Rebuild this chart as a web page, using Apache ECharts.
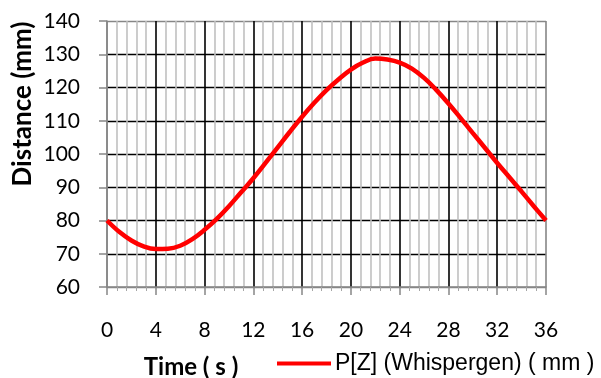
<!DOCTYPE html>
<html>
<head>
<meta charset="utf-8">
<script src="https://cdn.jsdelivr.net/npm/echarts@6/dist/echarts.min.js"></script>
<style>
  html, body { margin: 0; padding: 0; background: #fff; }
</style>
</head>
<body>
<div id="chart" style="width: 601px; height: 378px;"></div>
<script>
// time in seconds, distance in mm
var timeS = [0, 1, 2, 3, 4, 5, 6, 7, 8, 9, 10, 11, 12, 13, 14, 15, 16, 17, 18,
  19, 20, 21, 22, 23, 24, 25, 26, 27, 28, 29, 30, 31, 32, 33, 34, 35, 36]
var distanceMm = [80, 76.6, 74, 72.2, 71.4, 71.5, 72.4, 74.4, 77.2, 80.5, 84.3, 88.5,
  92.7, 97.3, 102, 106.7, 111.2, 115.4, 119.2, 122.5, 125.4, 127.5, 128.7, 128.4,
  127.5, 125.7, 122.9, 119.3, 115.2, 110.8, 106.3, 101.8, 97.3, 93, 88.7, 84.3, 80]
var seriesName = 'P[Z] (Whispergen) ( mm )'

var myChart = echarts.init(document.getElementById('chart'))

var points = timeS.map(function (t, i) { return [t, distanceMm[i]] })

var option = {
  animation: false,
  grid: {
    left: 107,
    right: 55,
    top: 21,
    bottom: 91
  },
  legend: {
    left: 272,
    top: 347,
    icon: 'rect',
    itemWidth: 54,
    itemHeight: 4,
    itemGap: 0,
    textStyle: {
      fontFamily: 'Liberation Sans',
      fontSize: 23,
      color: '#000',
      padding: [0, 0, 0, -1]
    },
    data: [seriesName]
  },
  graphic: [
    {
      type: 'text',
      x: 23,
      y: 104,
      rotation: Math.PI / 2,
      style: {
        text: 'Distance (mm)',
        fontFamily: 'Lato',
        fontWeight: 'bold',
        fontSize: 26,
        fill: '#000',
        align: 'center',
        verticalAlign: 'middle'
      }
    },
    {
      type: 'text',
      x: 191,
      y: 367,
      style: {
        text: 'Time ( s )',
        fontFamily: 'Lato',
        fontWeight: 'bold',
        fontSize: 24,
        fill: '#000',
        align: 'center',
        verticalAlign: 'middle'
      }
    }
  ],
  xAxis: {
    type: 'value',
    min: 0,
    max: 36,
    interval: 4,
    axisLine: {
      lineStyle: { color: '#868686', width: 1.5 }
    },
    axisTick: {
      length: 8,
      lineStyle: { color: '#868686', width: 1.5 }
    },
    minorTick: {
      show: true,
      splitNumber: 5,
      length: 4,
      lineStyle: { color: '#a6a6a6', width: 1 }
    },
    axisLabel: {
      margin: 33,
      fontFamily: 'Lato',
      fontSize: 21,
      color: '#000'
    },
    splitLine: {
      show: true,
      lineStyle: {
        color: ['#868686', '#000', '#000', '#000', '#000', '#000', '#000', '#000', '#000', '#868686'],
        width: 1.6
      }
    },
    minorSplitLine: {
      show: true,
      lineStyle: { color: '#c0c0c0', width: 1.6 }
    }
  },
  yAxis: {
    type: 'value',
    min: 60,
    max: 140,
    interval: 10,
    axisLine: {
      show: true,
      lineStyle: { color: '#868686', width: 1.5 }
    },
    axisTick: {
      show: true,
      length: 8,
      lineStyle: { color: '#868686', width: 1.5 }
    },
    axisLabel: {
      margin: 27,
      fontFamily: 'Lato',
      fontSize: 21,
      color: '#000'
    },
    splitLine: {
      show: true,
      lineStyle: {
        color: ['#868686', '#000', '#000', '#000', '#000', '#000', '#000', '#000', '#868686'],
        width: 1.4
      }
    }
  },
  series: [
    {
      name: seriesName,
      type: 'line',
      smooth: 0.4,
      showSymbol: false,
      data: points,
      lineStyle: { color: '#ff0000', width: 4.5 },
      itemStyle: { color: '#ff0000' },
      z: 5
    }
  ]
}

myChart.setOption(option)
</script>
</body>
</html>
